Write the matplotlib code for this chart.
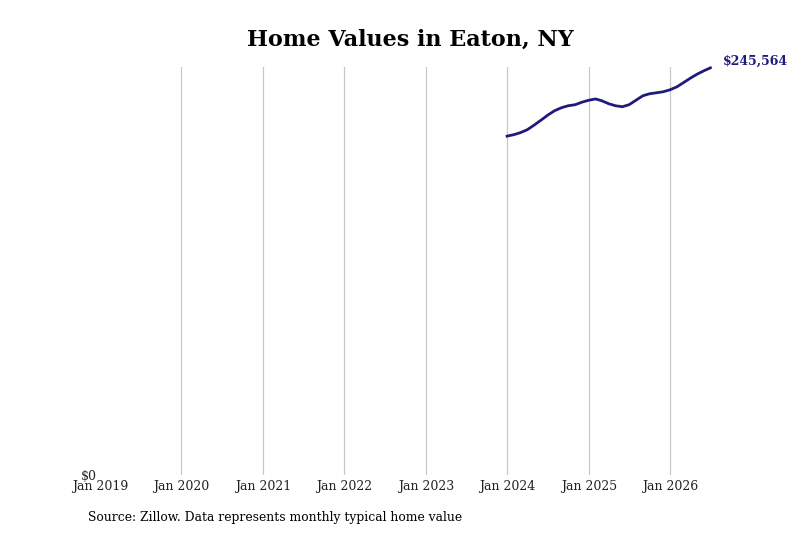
import numpy as np
import pandas as pd
import matplotlib
matplotlib.use("Agg")
import matplotlib.pyplot as plt
import matplotlib.dates as mdates

# monthly typical home value, Jan 2024 .. Jul 2026
months = pd.date_range("2024-01-01", "2026-07-01", freq="MS")
values = [
    204375, 205277, 206478, 208281, 210986, 213992, 216997, 219702,
    221505, 222708, 223309, 224811, 226014, 226795, 225713, 223910,
    222708, 222107, 223309, 226014, 228719, 229921, 230522, 231123,
    232325, 234128, 236533, 239238, 241642, 243746, 245564,
]
tick_years = list(range(2019, 2027))
tick_labels = [f"Jan {y}" for y in tick_years]

line_color = "#1f1b7a"
plt.rcParams["font.family"] = "DejaVu Serif"

fig = plt.figure(figsize=(8, 5.33), dpi=100)
ax = fig.add_axes([0.125, 0.109, 0.763, 0.766])

ax.plot(months, values, color=line_color, linewidth=2, clip_on=False)

ticks = [pd.Timestamp(f"{y}-01-01") for y in tick_years]
ax.set_xticks(ticks)
ax.set_xticklabels(tick_labels, fontsize=9, color="#222222")
ax.set_xlim(pd.Timestamp("2019-01-01"), months[-1])
ax.set_ylim(0, values[-1] * 1.003)
ax.set_yticks([0])
ax.set_yticklabels(["$0"], fontsize=9, color="#222222")

ax.grid(axis="x", color="#c8c8c8", linewidth=0.9)
ax.get_xgridlines()[0].set_visible(False)
for s in ax.spines.values():
    s.set_visible(False)
ax.tick_params(length=0, pad=2)
ax.tick_params(axis="x", pad=4)

ax.annotate(f"${values[-1]:,}", xy=(months[-1], values[-1]), xytext=(9, 5),
            textcoords="offset points", color=line_color, fontsize=9,
            fontweight="bold", va="center", ha="left", annotation_clip=False)

fig.text(0.5125, 0.925, "Home Values in Eaton, NY", ha="center", va="center",
         fontsize=16, fontweight="bold")
fig.text(0.11, 0.03, "Source: Zillow. Data represents monthly typical home value",
         fontsize=8.9, ha="left", va="center")

fig.savefig("out.png", dpi=100)
